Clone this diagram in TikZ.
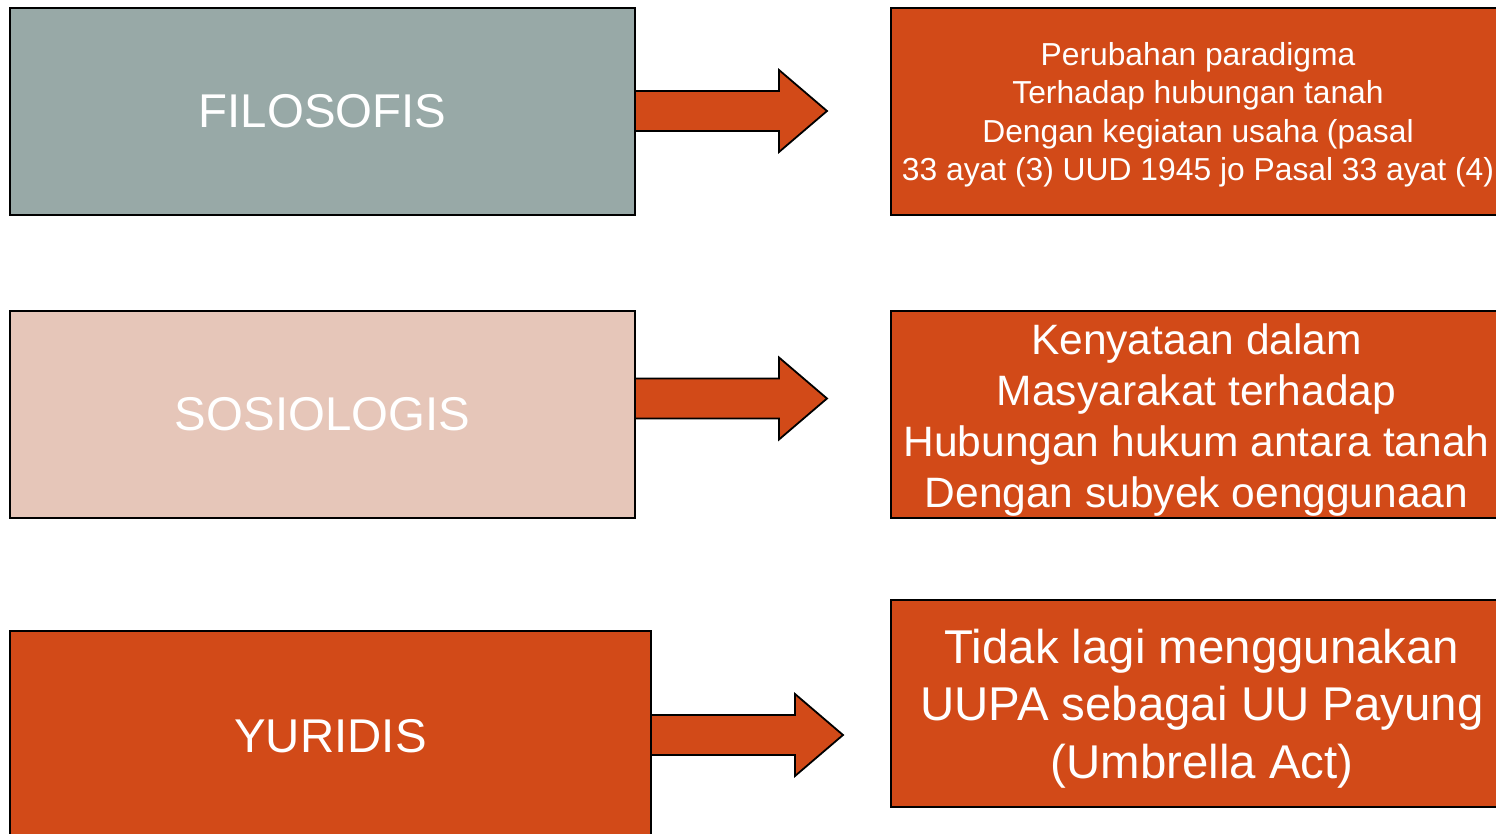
\documentclass[tikz,border=0pt]{standalone}
\usepackage{fontspec}
\setmainfont{Liberation Sans}
\usetikzlibrary{calc}
\definecolor{orng}{HTML}{D24A18}
\definecolor{grayg}{HTML}{98A9A7}
\definecolor{pinkb}{HTML}{E6C6B9}
\tikzset{
  box/.style={draw=black, line width=0.9pt, anchor=north west, inner sep=0pt, outer sep=0pt, text=white, align=center},
  leftbox/.style={box, minimum width=312.5pt, minimum height=103.5pt, font=\fontsize{23.7}{28}\selectfont},
  rightbox/.style={box, fill=orng, minimum width=307pt, minimum height=103.5pt},
  rtext/.style={text=white, align=center, inner sep=0pt},
  blockarrow/.style={draw=black, fill=orng, line width=0.9pt, line join=miter},
}
\begin{document}
\begin{tikzpicture}[x=0.5pt,y=-0.5pt]
\useasboundingbox (0,0) rectangle (1496,834);
\clip (0,0) rectangle (1496,834);
% left boxes
\node[leftbox, fill=grayg] (filo) at (10,8) {FILOSOFIS};
\node[leftbox, fill=pinkb] (soso) at (10,311) {SOSIOLOGIS};
\node[leftbox, fill=orng, minimum width=320.5pt, minimum height=105pt] (yuri) at (10,631) {YURIDIS};
% right boxes
\node[rightbox] (r1) at (891,8) {};
\node[rightbox] (r2) at (891,311) {};
\node[rightbox, minimum width=312pt] (r3) at (891,600) {};
\node[rtext, font=\fontsize{15.9}{19.25}\selectfont] (r1t) at ($(r1.center)+(0,3.5)$)
  {Perubahan paradigma\\Terhadap hubungan tanah\\Dengan kegiatan usaha (pasal\\33 ayat (3) UUD 1945 jo Pasal 33 ayat (4)};
\node[rtext, font=\fontsize{21.25}{25.5}\selectfont] (r2t) at ($(r2.center)+(-1.5,6)$)
  {Kenyataan dalam\\Masyarakat terhadap\\Hubungan hukum antara tanah\\Dengan subyek oenggunaan};
\node[rtext, font=\fontsize{23.7}{28.75}\selectfont] (r3t) at ($(r3.center)+(-1,5)$)
  {Tidak lagi menggunakan\\UUPA sebagai UU Payung\\(Umbrella Act)};
% block arrows
\coordinate (a1) at ($(filo.east)+(0,-0.5)$);
\coordinate (a2) at ($(soso.east)+(0,-16)$);
\coordinate (a3) at ($(yuri.east)+(0,-1)$);
\foreach \c in {a1,a2,a3}{
  \draw[blockarrow] ($(\c)+(0,-20)$) -- ++(144,0) -- ++(0,-21) -- ++(48,41) -- ++(-48,41) -- ++(0,-21) -- ++(-144,0) -- cycle;
}
\end{tikzpicture}
\end{document}
